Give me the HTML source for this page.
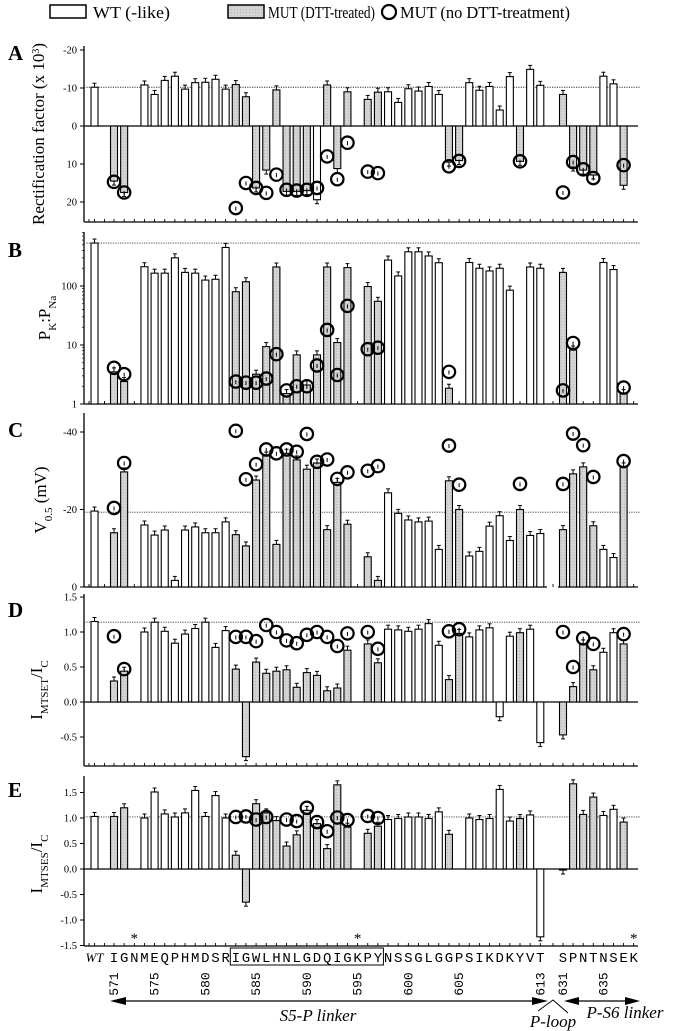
<!DOCTYPE html>
<html><head><meta charset="utf-8">
<style>
html,body{margin:0;padding:0;background:#fff;}
svg{display:block;font-family:"Liberation Serif",serif;}
</style></head>
<body>
<svg id="chart" width="676" height="1031" viewBox="0 0 676 1031" xmlns="http://www.w3.org/2000/svg">
<defs>
<pattern id="gp" width="3" height="3" patternUnits="userSpaceOnUse"><rect width="3" height="3" fill="#d4d4d4"/><rect width="1" height="1" fill="#b8b8b8"/></pattern>
</defs>
<g>
  <rect x="50" y="5" width="36" height="13" fill="#fff" stroke="#000" stroke-width="1.5"/>
  <text x="93" y="18" font-size="17" textLength="77" lengthAdjust="spacingAndGlyphs">WT (-like)</text>
  <rect x="228" y="5" width="36" height="13" fill="url(#gp)" stroke="#000" stroke-width="1.5"/>
  <text x="268" y="18" font-size="17" textLength="107" lengthAdjust="spacingAndGlyphs">MUT (DTT-treated)</text>
  <circle cx="389" cy="12" r="7" fill="none" stroke="#000" stroke-width="2.2"/>
  <text x="400" y="18" font-size="17" textLength="170" lengthAdjust="spacingAndGlyphs">MUT (no DTT-treatment)</text>
</g>
<g id="plots"></g>
<g id="bottom"></g>
</svg>
<script>
// ---- data ----
const residues = ["WT","I","G","N","M","E","Q","P","H","M","D","S","R","I","G","W","L","H","N","L","G","D","Q","I","G","K","P","Y","N","S","S","G","L","G","G","P","S","I","K","D","K","Y","V","T","S","P","N","T","N","S","E","K"];
const positionNumbers = [571,575,580,585,590,595,600,605,613,631,635];
const positionColumns = [1,5,10,15,20,25,30,35,43,44,48];
const asteriskColumns = [3,25,51];

const typesA = "wgg-"+"wwwwwwwww"+"ggggggggwggg-gg"+"wwwwww"+"gg"+"wwwww"+"gww"+"ggggwwg-";
const barsA = [-10.2, 14.5,17.5,null, -10.8,-8.3,-12,-13.1,-9.7,-11.4,-11.5,-12.3,-9.7, -10.9,-7.7,16.3,11.6,-9.5,17.2,17.2,17,19.4,-10.8,11.2,-9,null,-7,-8.9, -9,-6.2,-9.8,-9.2,-10.4,-8.3, 9.5,9.1, -11.4,-9.4,-10.4,-4.2,-13, 9.3,-14.9,-10.7, -8.3,10.8,11.6,12.9,-13.1,-11.1,15.6,null];
const circA = [null, 14.7,17.5,null, null,null,null,null,null,null,null,null,null, 21.6,15,16.3,17.6,12.8,16.8,17,16.8,16.3,8,14,4.4,null,12,12.4, null,null,null,null,null,null, 10.6,9.2, null,null,null,null,null, 9.3,null,null, 17.5,9.5,11.4,13.7,null,null,10.3,null];

const typesB = "wgg-"+"wwwwwwwww"+"gggggggggggg-gg"+"wwwwww"+"g-"+"wwwww"+"-ww"+"gg--wwg-";
const barsB = [535, 3.5,2.4,null, 212,165,165,300,170,165,126,130,450, 80,118,3.2,9.4,210,1.5,6.8,2.1,6.8,210,11,205,null,98,55, 275,148,380,380,323,248, 1.85,null, 250,200,180,200,85, null,210,200, 170,8.2,null,null,250,190,1.5,null];
const circB = [null, 4.1,3.2,null, null,null,null,null,null,null,null,null,null, 2.4,2.3,2.3,2.7,7,1.7,2,2,4.5,18,3.1,46,null,8.5,9, null,null,null,null,null,null, 3.5,null, null,null,null,null,null, null,null,null, 1.7,10.8,null,null,null,null,1.9,null];

const typesC = "wgg-"+"wwwwwwwww"+"gggggggggggg-gg"+"wwwwww"+"gg"+"wwwww"+"gww"+"ggggwwg-";
const barsC = [-19.6, -14,-29.7,null, -16,-13.4,-14.7,-1.7,-14.7,-15.5,-14,-14,-16.8, -13.5,-10.6,-27.6,-33.8,-11,-34.5,-32.8,-30.4,-32,-14.8,-27,-16.2,null,-7.8,-1.7, -24.3,-19,-17.3,-16.8,-17,-9.7, -27.4,-20, -8,-9.2,-15.7,-18.4,-12, -20,-13.3,-13.8, -14.8,-29.2,-31,-15.8,-9.7,-7.6,-31,null];
const circC = [null, -20.4,-32,null, null,null,null,null,null,null,null,null,null, -40.3,-27.8,-31.7,-35.5,-34.5,-35.5,-34.9,-39.5,-32.3,-32.9,-27.9,-29.6,null,-30,-31.2, null,null,null,null,null,null, -36.5,-26.4, null,null,null,null,null, -26.6,null,null, -26.6,-39.6,-36.6,-28.4,null,null,-32.5,null];

const typesD = typesC;
const barsD = [1.15, 0.3,0.44,null, 1.0,1.14,1.01,0.84,0.97,1.05,1.14,0.78,1.02, 0.47,-0.78,0.57,0.41,0.44,0.46,0.21,0.42,0.38,0.16,0.2,0.74,null,0.83,0.56, 1.04,1.03,1.01,1.04,1.12,0.81, 0.32,0.98, 0.93,1.03,1.06,-0.21,0.94, 0.99,1.04,-0.58, -0.47,0.22,0.83,0.46,0.71,0.99,0.83,null];
const circD = [null, 0.94,0.47,null, null,null,null,null,null,null,null,null,null, 0.93,0.93,0.87,1.1,1.0,0.88,0.84,0.96,1.0,0.93,0.8,0.98,null,1.0,0.76, null,null,null,null,null,null, 1.01,1.04, null,null,null,null,null, null,null,null, 1.0,0.5,0.91,0.83,null,null,0.97,null];

const typesE = "wgg-"+"wwwwwwwww"+"gggggggggggg-gg"+"wwwwww"+"g-"+"wwwww"+"gww"+"ggggwwg-";
const barsE = [1.03, 1.03,1.2,null, 1.0,1.51,1.08,1.02,1.1,1.54,1.03,1.44,1.0, 0.27,-0.65,1.28,1.1,0.95,0.45,0.67,1.15,0.89,0.4,1.65,0.82,null,0.7,0.84, 0.97,0.99,1.02,1.02,0.99,1.12, 0.68,null, 1.0,0.97,0.99,1.56,0.94, 0.99,1.06,-1.33, -0.02,1.67,1.07,1.41,1.05,1.17,0.92,null];
const circE = [null, null,null,null, null,null,null,null,null,null,null,null,null, 1.02,1.03,0.97,1.02,null,0.97,0.94,1.2,0.92,0.74,1.01,0.96,null,1.04,1.0, null,null,null,null,null,null, null,null, null,null,null,null,null, null,null,null, null,null,null,null,null,null,null,null];

const ticksA = [-20,-10,0,10,20];
const ticksB = [1,10,100];
const ticksC = [-40,-20,0];
const ticksD = [1.5,1.0,0.5,0.0,-0.5];
const ticksE = [1.5,1.0,0.5,0.0,-0.5,-1.0,-1.5];

// ---- layout ----
const NS = "http://www.w3.org/2000/svg";
const AX = 84, AXR = 638;
function colX(i){ if(i===0) return 94.5; if(i<=43) return 114+10.15*(i-1); return 563+10.1*(i-44); }
function mk(tag, attrs, parent){ const e=document.createElementNS(NS,tag); for(const k in attrs) e.setAttribute(k,attrs[k]); parent.appendChild(e); return e; }
const plots = document.getElementById("plots");

const panels = [
 {id:"a", letter:"A", types:typesA, bars:barsA, circ:circA, ticks:ticksA, top:46, bottom:222, base:0, dotted:-10.2,
  y:v=>126+3.8*v, fmt:v=>String(v), zeroLine:true},
 {id:"b", letter:"B", types:typesB, bars:barsB, circ:circB, ticks:ticksB, top:232, bottom:404, base:1, dotted:535,
  y:v=>404-59*Math.log10(v), fmt:v=>String(v), zeroLine:false},
 {id:"c", letter:"C", types:typesC, bars:barsC, circ:circC, ticks:ticksC, top:413, bottom:587, base:0, dotted:-19.3,
  y:v=>587+3.875*v, fmt:v=>String(v), zeroLine:false, gap:true},
 {id:"d", letter:"D", types:typesD, bars:barsD, circ:circD, ticks:ticksD, top:594, bottom:766, base:0, dotted:1.14,
  y:v=>702-70*v, fmt:v=>v.toFixed(1), zeroLine:true},
 {id:"e", letter:"E", types:typesE, bars:barsE, circ:circE, ticks:ticksE, top:776, bottom:946, base:0, dotted:1.02,
  y:v=>869-51*v, fmt:v=>v.toFixed(1), zeroLine:true}
];
const titles = {
 a:{x:44,y:134,html:'Rectification factor (x 10<tspan baseline-shift="super" font-size="10">3</tspan>)'},
 b:{x:50,y:318,html:'P<tspan baseline-shift="sub" font-size="11">K</tspan>:P<tspan baseline-shift="sub" font-size="11">Na</tspan>'},
 c:{x:46,y:500,html:'V<tspan baseline-shift="sub" font-size="11">0.5</tspan> (mV)'},
 d:{x:42,y:690,html:'I<tspan baseline-shift="sub" font-size="11">MTSET</tspan>/I<tspan baseline-shift="sub" font-size="11">C</tspan>'},
 e:{x:42,y:864,html:'I<tspan baseline-shift="sub" font-size="11">MTSES</tspan>/I<tspan baseline-shift="sub" font-size="11">C</tspan>'}
};
const letterY = {a:60,b:257,c:437,d:617,e:797};

panels.forEach(p=>{
  const g = mk("g",{},plots);
  
  
  const L = mk("text",{x:8,y:letterY[p.id],"font-size":21,"font-weight":"bold"},g);
  
  
  L.textContent = p.letter;
  const t = titles[p.id];
  const T = mk("text",{x:t.x,y:t.y,"font-size":17,"text-anchor":"middle",transform:`rotate(-90 ${t.x} ${t.y})`},g);
  
  
  T.innerHTML = t.html;
  const ya = mk("line",{x1:AX,y1:p.top,x2:AX,y2:p.bottom,stroke:"#000","stroke-width":1.3},g);
  
  
  p.ticks.forEach(v=>{
    const yy=p.y(v);
    mk("line",{x1:AX-4,y1:yy,x2:AX,y2:yy,stroke:"#000","stroke-width":1},g);
    const tl = mk("text",{x:AX-7,y:yy+3.5,"font-size":10.5,"text-anchor":"end"},g);
    
    
    tl.textContent = p.fmt(v);
  });
  if(p.id==="b"){
    for(let d=0; d<3; d++) for(let m=2;m<10;m++){ const yy=p.y(m*Math.pow(10,d)); if(yy>=p.top) mk("line",{x1:AX-2,y1:yy,x2:AX,y2:yy,stroke:"#000","stroke-width":0.7},g); }
  }
  if(p.gap){
    mk("line",{x1:AX,y1:p.bottom,x2:547,y2:p.bottom,stroke:"#000","stroke-width":1.3},g);
    mk("line",{x1:558,y1:p.bottom,x2:AXR,y2:p.bottom,stroke:"#000","stroke-width":1.3},g);
  } else {
    const xa = mk("line",{x1:AX,y1:p.bottom,x2:AXR,y2:p.bottom,stroke:"#000","stroke-width":1.3},g);
    
    
  }
  for(let i=0;i<residues.length;i++){ const x=colX(i); mk("line",{x1:x,y1:p.bottom,x2:x,y2:p.bottom-3,stroke:"#000","stroke-width":0.9},g); }
  [AX+5,104.5,553].forEach(x=>mk("line",{x1:x,y1:p.bottom,x2:x,y2:p.bottom-3,stroke:"#000","stroke-width":0.9},g));
  if(p.zeroLine && p.y(0)<p.bottom-1){
    const zl = mk("line",{x1:AX,y1:p.y(0),x2:AXR,y2:p.y(0),stroke:"#000","stroke-width":1.2},g);
    
    
  }
  const dl = mk("line",{x1:AX,y1:p.y(p.dotted),x2:AXR+2,y2:p.y(p.dotted),stroke:"#333","stroke-width":0.9,"stroke-dasharray":"1.2 1.2"},g);
  
  
  p.bars.forEach((v,i)=>{
    if(v===null || p.types[i]==='-') return;
    const x=colX(i), y0=p.y(p.base), y1=p.y(v);
    const top=Math.min(y0,y1), h=Math.max(Math.abs(y1-y0),1);
    const r = mk("rect",{x:x-3.5,y:top,width:7,height:h,fill:p.types[i]==='g'?"url(#gp)":"#fff",stroke:"#000","stroke-width":1.1},g);
    
    
    const dir = y1<y0 ? -1 : 1;
    mk("line",{x1:x,y1:y1,x2:x,y2:y1+dir*4,stroke:"#000","stroke-width":1},g);
    mk("line",{x1:x-2,y1:y1+dir*4,x2:x+2,y2:y1+dir*4,stroke:"#000","stroke-width":1},g);
  });
  p.circ.forEach((v,i)=>{
    if(v===null) return;
    const x=colX(i), y=p.y(v);
    const c = mk("circle",{cx:x,cy:y,r:6.2,fill:"none",stroke:"#000","stroke-width":2.2},g);
    
    
    mk("line",{x1:x,y1:y-1.5,x2:x,y2:y+2.5,stroke:"#000","stroke-width":1},g);
  });
});

const bot = document.getElementById("bottom");
residues.forEach((r,i)=>{
  const t = mk("text",{x:colX(i),y:962,"font-size":i===0?13:14,"text-anchor":"middle","font-family":i===0?"Liberation Serif, serif":"Liberation Mono, monospace","font-style":i===0?"italic":"normal"},bot);
  
  
  t.textContent = r;
});
const box = mk("rect",{x:colX(13)-5.5,y:948,width:colX(27)-colX(13)+11,height:17,fill:"none",stroke:"#000","stroke-width":1},bot);


positionNumbers.forEach((n,k)=>{
  const x=colX(positionColumns[k])+4, y=984;
  const t = mk("text",{x:x,y:y,"font-size":13,"text-anchor":"middle","font-family":"Liberation Mono, monospace",transform:`rotate(-90 ${x} ${y})`},bot);
  
  
  t.textContent = n;
});
asteriskColumns.forEach(i=>{
  const t = mk("text",{x:colX(i),y:943,"font-size":15,"text-anchor":"middle"},bot);
  
  
  t.textContent = "*";
});
const a1 = mk("line",{x1:122,y1:1001,x2:536,y2:1001,stroke:"#000","stroke-width":1.3},bot);


mk("polygon",{points:"110,1001 126,997 126,1005",fill:"#000"},bot);
mk("polygon",{points:"548,1001 532,997 532,1005",fill:"#000"},bot);
mk("polyline",{points:"538,1011 553,1000 568,1013",fill:"none",stroke:"#000","stroke-width":1},bot);
const a2 = mk("line",{x1:574,y1:1001,x2:628,y2:1001,stroke:"#000","stroke-width":1.3},bot);


mk("polygon",{points:"564,1001 579,997 579,1005",fill:"#000"},bot);
mk("polygon",{points:"640,1001 625,997 625,1005",fill:"#000"},bot);
[["S5-P linker",318,1021,"s5-p-linker-label"],["P-loop",553,1027,"p-loop-label"],["P-S6 linker",625,1018,"p-s6-linker-label"]].forEach(d=>{
  const t = mk("text",{x:d[1],y:d[2],"font-size":17,"font-style":"italic","text-anchor":"middle"},bot);
  
  
  t.textContent = d[0];
});
</script>
</body></html>
